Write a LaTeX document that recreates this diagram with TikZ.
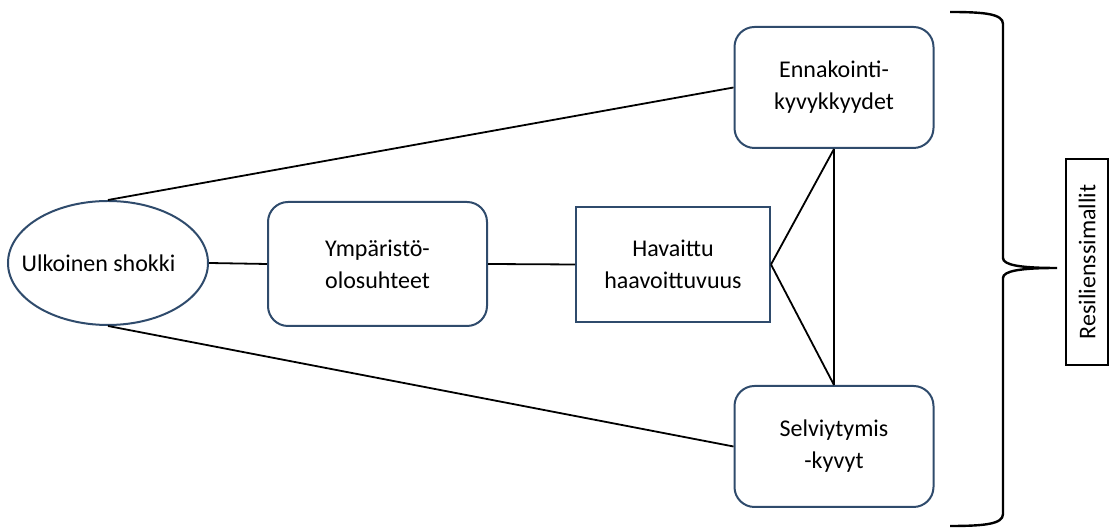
\documentclass[tikz,border=0pt]{standalone}
\usepackage{fontspec}
\setmainfont{Carlito}
\usetikzlibrary{shapes.geometric}
\definecolor{edgeblue}{RGB}{47,75,108}
\begin{document}
\begin{tikzpicture}[x=0.5pt,y=0.5pt,
 every node/.style={font=\fontsize{12pt}{16pt}\selectfont,align=center,inner sep=0pt},
 rbox/.style={draw=edgeblue,line width=1pt,rounded corners=10pt,minimum width=99.5pt,minimum height=60.5pt},
 sbox/.style={draw=edgeblue,line width=1pt,minimum width=97pt,minimum height=57.5pt},
 link/.style={line width=0.9pt}]
  \useasboundingbox (0,0) rectangle (1110,529);
  \node[ellipse,draw=edgeblue,line width=1pt,minimum width=100pt,minimum height=62pt] (shock) at (108,266) {\makebox[0pt]{Ulkoinen shokki\kern9.5pt}};
  \node[rbox,minimum width=109.5pt,minimum height=62pt] (env) at (377.5,265) {Ympäristö-\\olosuhteet};
  \node[sbox] (vuln) at (673,264.5) {Havaittu\\haavoittuvuus};
  \node[rbox] (antic) at (834,441.5) {Ennakointi-\\kyvykkyydet};
  \node[rbox] (cope) at (834,82.5) {Selviytymis\\-kyvyt};
  \node[draw,line width=0.6pt,rotate=90,minimum width=103pt,minimum height=21pt] (model) at (1087,267) {Resilienssimallit};
  \draw[link] (shock.north) -- (antic.west);
  \draw[link] (shock.south) -- (cope.west);
  \draw[link] (shock.east) -- (env.west);
  \draw[link] (env.east) -- (vuln.west);
  \draw[link] (vuln.east) -- (antic.south);
  \draw[link] (vuln.east) -- (cope.north);
  \draw[link] (antic.south) -- (cope.north);
  \draw[line width=1.2pt] (950,517) .. controls (985,517) and (1003,515) .. (1003,505) -- (1003,271)
    .. controls (1003,264) and (1020,261) .. (1057,261) .. controls (1020,261) and (1003,258) .. (1003,251)
    -- (1003,15) .. controls (1003,5) and (985,3) .. (950,3);
\end{tikzpicture}
\end{document}
